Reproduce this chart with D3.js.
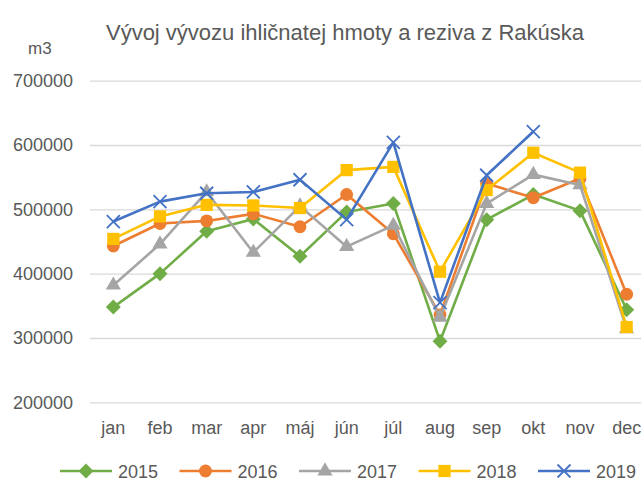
<!DOCTYPE html>
<html>
<head>
<meta charset="utf-8">
<script src="https://cdn.jsdelivr.net/npm/d3@7"></script>
<style>
  body { margin: 0; background: #fff; }
  text { font-family: "Liberation Sans", Arial, sans-serif; fill: #595959; }
</style>
</head>
<body>
<div id="chart"></div>
<script>
const months = ['jan', 'feb', 'mar', 'apr', 'máj', 'jún', 'júl', 'aug', 'sep', 'okt', 'nov', 'dec']
const years = ['2015', '2016', '2017', '2018', '2019']
const yTicks = [200000, 300000, 400000, 500000, 600000, 700000]

const v2015 = [348000, 400000, 466000, 485000, 427000, 496000, 509000, 295000, 484000, 523000, 498000, 344000]
const v2016 = [443000, 478000, 482000, 493000, 473000, 523000, 462000, 336000, 540000, 518000, 548000, 368000]
const v2017 = [382000, 446000, 527000, 433000, 505000, 442000, 475000, 332000, 509000, 554000, 538000, 314000]
const v2018 = [454000, 489000, 507000, 506000, 502000, 561000, 566000, 403000, 530000, 588000, 557000, 317000]
const v2019 = [481000, 512000, 525000, 527000, 546000, 484000, 604000, 355000, 553000, 621000]

const seriesValues = [v2015, v2016, v2017, v2018, v2019]
const colors = ['#70AD47', '#ED7D31', '#A5A5A5', '#FFC000', '#4472C4']
const markers = ['diamond', 'circle', 'triangle', 'square', 'cross']

const width = 641, height = 482
const svg = d3.select('#chart').append('svg')
    .attr('width', width)
    .attr('height', height)

const x = d3.scaleBand().domain(months).range([90, 650])
const y = d3.scaleLinear().domain([200000, 700000]).range([402.3, 80.7])
const cx = m => x(m) + x.bandwidth() / 2

// grid + y labels
svg.append('g')
    .attr('transform', 'translate(90,0)')
    .call(d3.axisLeft(y).tickValues(yTicks).tickSize(-560).tickPadding(17).tickFormat(d3.format('d')))
    .call(g => g.select('.domain').remove())
    .call(g => g.selectAll('line').attr('stroke', '#d9d9d9').attr('stroke-width', 1.3))
    .call(g => g.selectAll('text').style('font-size', '18px').attr('fill', '#595959'))

// x labels
svg.append('g')
    .attr('transform', 'translate(0,402.3)')
    .call(d3.axisBottom(x).tickSize(0).tickPadding(19))
    .call(g => g.select('.domain').remove())
    .call(g => g.selectAll('text').style('font-size', '18px').attr('fill', '#595959'))

const sym = {
  circle: d3.symbol(d3.symbolCircle, 130),
  triangle: d3.symbol(d3.symbolTriangle, 100),
  square: d3.symbol(d3.symbolSquare, 150),
}

function drawMarker(g, type, color, px, py) {
  if (type === 'cross') {
    const s = 6.5
    g.append('path')
        .attr('d', `M${px - s},${py - s}L${px + s},${py + s}M${px - s},${py + s}L${px + s},${py - s}`)
        .attr('stroke', color)
        .attr('stroke-width', 1.8)
        .attr('fill', 'none')
  } else if (type === 'diamond') {
    const s = 7.5
    g.append('path')
        .attr('d', `M${px},${py - s}L${px + s},${py}L${px},${py + s}L${px - s},${py}Z`)
        .attr('fill', color)
  } else {
    g.append('path')
        .attr('d', sym[type]())
        .attr('transform', `translate(${px},${py})`)
        .attr('fill', color)
  }
}

const line = d3.line()
    .x((d, i) => cx(months[i]))
    .y(d => y(d))

seriesValues.forEach((vals, si) => {
  const g = svg.append('g')
  g.append('path')
      .datum(vals)
      .attr('d', line)
      .attr('fill', 'none')
      .attr('stroke', colors[si])
      .attr('stroke-width', 2.6)
      .attr('stroke-linejoin', 'round')
  vals.forEach((v, i) => drawMarker(g, markers[si], colors[si], cx(months[i]), y(v)))
})

// title + unit
svg.append('text')
    .attr('x', 345)
    .attr('y', 40)
    .attr('text-anchor', 'middle')
    .style('font-size', '22px')
    .text('Vývoj vývozu ihličnatej hmoty a reziva z Rakúska')

svg.append('text')
    .attr('x', 28)
    .attr('y', 54)
    .style('font-size', '17px')
    .text('m3')

// legend
const legend = svg.append('g')
years.forEach((yr, i) => {
  const lx = 60 + i * 119.5, ly = 471
  legend.append('line')
      .attr('x1', lx).attr('x2', lx + 52)
      .attr('y1', ly).attr('y2', ly)
      .attr('stroke', colors[i])
      .attr('stroke-width', 2.6)
  drawMarker(legend, markers[i], colors[i], lx + 26, ly)
  legend.append('text')
      .attr('x', lx + 58)
      .attr('y', ly + 7)
      .style('font-size', '18px')
      .text(yr)
})
</script>
</body>
</html>
